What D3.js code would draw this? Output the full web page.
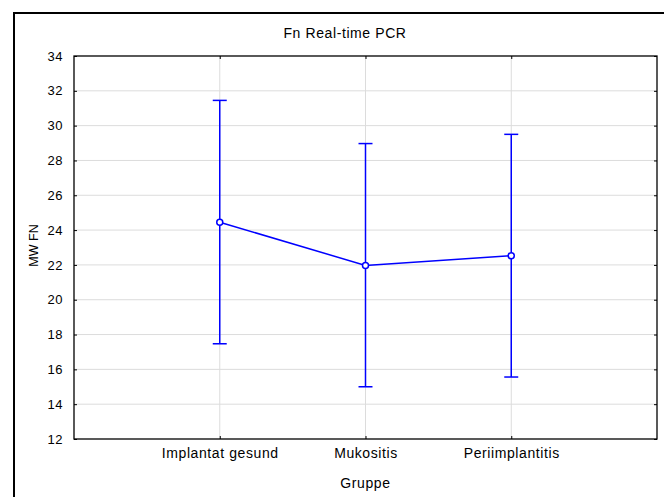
<!DOCTYPE html>
<html>
<head>
<meta charset="utf-8">
<script src="https://cdn.jsdelivr.net/npm/d3@7"></script>
<style>
  html, body { margin: 0; padding: 0; background: #fff; }
  svg { display: block; }
  text { font-family: "Liberation Sans", Arial, sans-serif; fill: #000; }
</style>
</head>
<body>
<svg id="chart" width="664" height="497"></svg>
<script>
const categories = ["Implantat gesund", "Mukositis", "Periimplantitis"];
const means = [24.45, 21.97, 22.53];
const upper = [31.45, 28.97, 29.5];
const lower = [17.47, 15.0, 15.56];
const yTicks = [12, 14, 16, 18, 20, 22, 24, 26, 28, 30, 32, 34];
const title = "Fn Real-time PCR";
const xTitle = "Gruppe";
const yTitle = "MW FN";

const svg = d3.select("#chart");
const pL = 74, pR = 657, pT = 56, pB = 439;

// outer frame (extends beyond picture on right/bottom)
svg.append("rect")
  .attr("x", 14).attr("y", 13).attr("width", 700).attr("height", 520)
  .attr("fill", "none").attr("stroke", "#000").attr("stroke-width", 2);

const x = d3.scalePoint().domain(categories).range([pL, pR]).padding(1);
const y = d3.scaleLinear().domain([12, 34]).range([pB, pT]);

// gridlines
svg.append("g").selectAll("line").data(yTicks.slice(1, -1)).join("line")
  .attr("x1", pL).attr("x2", pR)
  .attr("y1", d => y(d)).attr("y2", d => y(d))
  .attr("stroke", "#dcdcdc").attr("stroke-width", 1);
svg.append("g").selectAll("line").data(categories).join("line")
  .attr("x1", d => x(d)).attr("x2", d => x(d))
  .attr("y1", pT).attr("y2", pB)
  .attr("stroke", "#dcdcdc").attr("stroke-width", 1);

// axes
const yAxis = d3.axisLeft(y).tickValues(yTicks).tickSize(-3).tickPadding(11).tickFormat(d3.format("d"));
const gy = svg.append("g").attr("transform", `translate(${pL},0)`).call(yAxis);
gy.select(".domain").remove();
gy.selectAll("text").attr("font-size", 13).style("letter-spacing", "0.5px")
  .attr("font-family", "Liberation Sans, Arial, sans-serif");
gy.selectAll("line").attr("stroke", "#000");

const gyr = svg.append("g").attr("transform", `translate(${pR},0)`)
  .call(d3.axisRight(y).tickValues(yTicks).tickSize(-3).tickFormat(""));
gyr.select(".domain").remove();

const xAxis = d3.axisBottom(x).tickSize(-3).tickPadding(9);
const gx = svg.append("g").attr("transform", `translate(0,${pB})`).call(xAxis);
gx.select(".domain").remove();
gx.selectAll("text").attr("font-size", 14).style("letter-spacing", "0.6px")
  .attr("font-family", "Liberation Sans, Arial, sans-serif");

const gxt = svg.append("g").attr("transform", `translate(0,${pT})`)
  .call(d3.axisTop(x).tickSize(-3).tickFormat(""));
gxt.select(".domain").remove();

// plot frame
svg.append("rect")
  .attr("x", pL).attr("y", pT).attr("width", pR - pL).attr("height", pB - pT)
  .attr("fill", "none").attr("stroke", "#000").attr("stroke-width", 1.3);

// error bars
const eb = svg.append("g").attr("stroke", "#0000ff").attr("stroke-width", 1.5);
categories.forEach((c, i) => {
  eb.append("line").attr("x1", x(c)).attr("x2", x(c)).attr("y1", y(upper[i])).attr("y2", y(lower[i]));
  eb.append("line").attr("x1", x(c) - 7).attr("x2", x(c) + 7).attr("y1", y(upper[i])).attr("y2", y(upper[i]));
  eb.append("line").attr("x1", x(c) - 7).attr("x2", x(c) + 7).attr("y1", y(lower[i])).attr("y2", y(lower[i]));
});

// mean line
svg.append("path")
  .datum(categories.map((c, i) => [x(c), y(means[i])]))
  .attr("d", d3.line())
  .attr("fill", "none").attr("stroke", "#0000ff").attr("stroke-width", 1.5);

svg.append("g").selectAll("circle").data(categories).join("circle")
  .attr("cx", d => x(d)).attr("cy", (d, i) => y(means[i])).attr("r", 3)
  .attr("fill", "#fff").attr("stroke", "#0000ff").attr("stroke-width", 1.5);

// titles
svg.append("text").attr("x", 345).attr("y", 38).attr("text-anchor", "middle")
  .attr("font-size", 14).style("letter-spacing", "0.6px").text(title);
svg.append("text").attr("x", (pL + pR) / 2).attr("y", 488).attr("text-anchor", "middle")
  .attr("font-size", 14).style("letter-spacing", "0.6px").text(xTitle);
svg.append("text").attr("transform", `translate(38,${(pT + pB) / 2 - 2}) rotate(-90)`)
  .attr("text-anchor", "middle").attr("font-size", 12.5).text(yTitle);
</script>
</body>
</html>
